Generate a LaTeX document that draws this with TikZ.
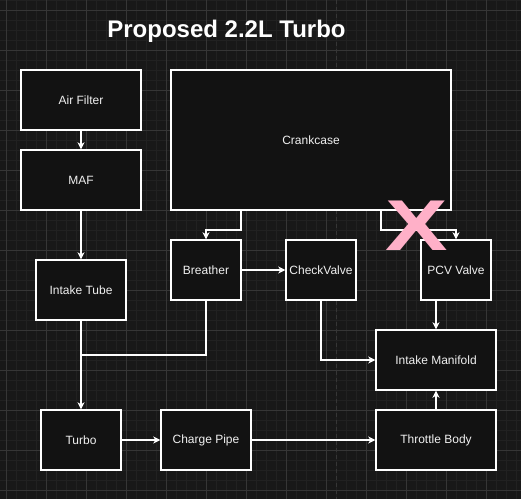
\documentclass[tikz,border=0pt]{standalone}
\usepackage{fontspec}
\setmainfont{Liberation Sans}
\usetikzlibrary{arrows.meta}
\definecolor{bgc}{HTML}{181818}
\definecolor{minorc}{HTML}{212121}
\definecolor{majorc}{HTML}{363636}
\definecolor{boxc}{HTML}{121212}
\definecolor{txtc}{HTML}{F0F0F0}
\definecolor{pinkc}{HTML}{FFB0C8}
\tikzset{
  box/.style={draw=white, line width=1.4pt, fill=boxc, text=txtc, font=\fontsize{12}{14}\selectfont, inner sep=0pt},
  conn/.style={draw=white, line width=1.2pt, -{Stealth[length=7pt,width=7pt,inset=2pt]}},
  plainconn/.style={draw=white, line width=1.2pt},
}
\begin{document}
\begin{tikzpicture}[x=1pt,y=-1pt]
\useasboundingbox (0,0) rectangle (521,499);
\fill[bgc] (0,0) rectangle (521,499);
% minor grid
\foreach \i in {0,...,52} {\draw[minorc, line width=0.6pt] ({6+10*\i},0) -- ({6+10*\i},499);}
\foreach \j in {0,...,49} {\draw[minorc, line width=0.6pt] (0,{10*\j}) -- (521,{10*\j});}
% major grid
\foreach \i in {0,...,13} {\draw[majorc, line width=0.8pt] ({6+40*\i},0) -- ({6+40*\i},499);}
\foreach \j in {0,...,12} {\draw[majorc, line width=0.8pt] (0,{10+40*\j}) -- (521,{10+40*\j});}
% page boundary
\draw[majorc, line width=0.8pt, dash pattern=on 4pt off 3pt] (336.5,0) -- (336.5,499);

% title
\node[text=white, font=\fontsize{24}{28}\selectfont\bfseries] (title) at (226.5,31) {Proposed 2.2L Turbo};

% boxes
\node[box, minimum width=120pt, minimum height=60pt] (air) at (81,100) {Air Filter};
\node[box, minimum width=120pt, minimum height=60pt] (maf) at (81,180) {MAF};
\node[box, minimum width=280pt, minimum height=140pt] (crank) at (311,140) {Crankcase};
\node[box, minimum width=90pt, minimum height=60pt] (itube) at (81,290) {Intake Tube};
\node[box, minimum width=70pt, minimum height=60pt] (breather) at (206,270) {Breather};
\node[box, minimum width=70pt, minimum height=60pt] (check) at (321,270) {CheckValve};
\node[box, minimum width=70pt, minimum height=60pt] (pcv) at (456,270) {PCV Valve};
\node[box, minimum width=120pt, minimum height=60pt] (manifold) at (436,360) {Intake Manifold};
\node[box, minimum width=120pt, minimum height=60pt] (throttle) at (436,440) {Throttle Body};
\node[box, minimum width=80pt, minimum height=60pt] (turbo) at (81,440) {Turbo};
\node[box, minimum width=90pt, minimum height=60pt] (charge) at (206,440) {Charge Pipe};

% junction coordinates
\coordinate (j1) at (81,355);

% connectors
\draw[conn] (air) -- (maf);
\draw[conn] (maf) -- (itube);
\draw[conn] (crank.south -| 241,0) -- (241,230) -- (206,230) -- (breather.north);
\draw[conn] (breather) -- (check);
\draw[conn] (crank.south -| 381,0) -- (381,230) -- (456,230) -- (pcv.north);
\draw[conn] (pcv.south -| 436,0) -- (manifold.north);
\draw[conn] (check.south) -- (321,360) -- (manifold.west);
\draw[conn] (itube.south) -- (turbo.north);
\draw[plainconn] (breather.south) -- (206,355) -- (j1);
\draw[conn] (turbo) -- (charge);
\draw[conn] (charge) -- (throttle);
\draw[conn] (throttle) -- (manifold);

% pink X
\node[text=pinkc, font=\fontsize{72}{72}\selectfont\bfseries, xscale=1.3, transform shape, inner sep=0pt] (xmark) at (416.5,225.5) {X};
\end{tikzpicture}
\end{document}
